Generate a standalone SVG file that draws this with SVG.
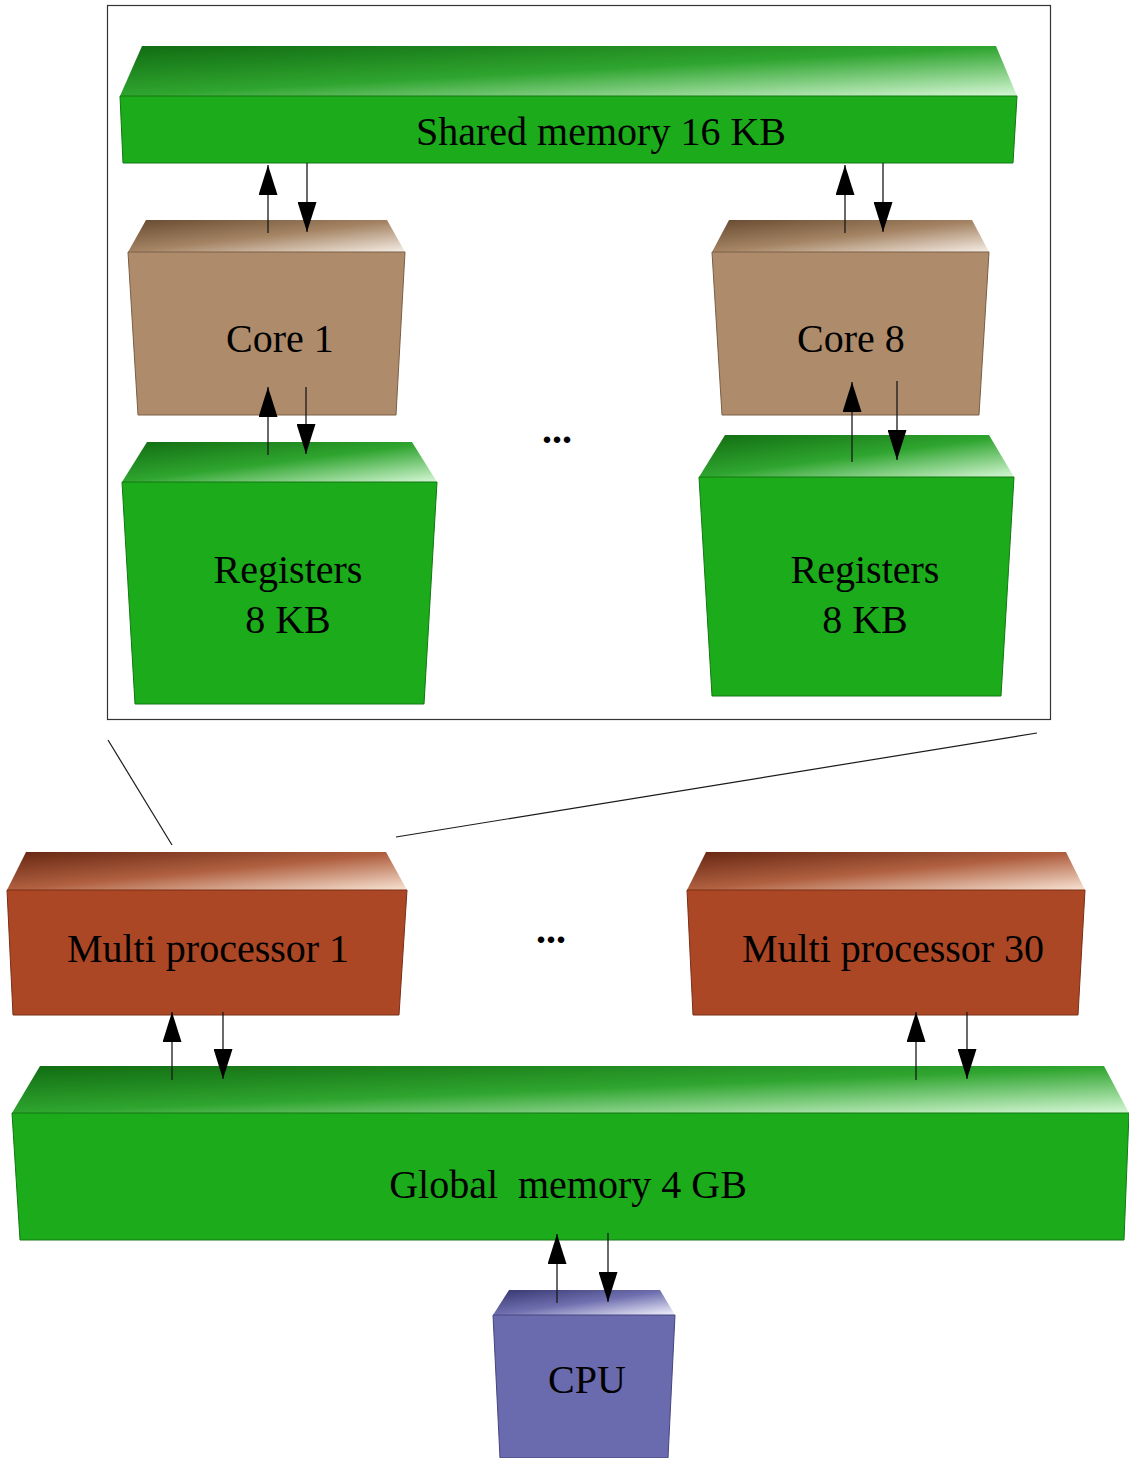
<svg xmlns="http://www.w3.org/2000/svg" width="1129" height="1458" viewBox="0 0 1129 1458">
  <defs>
    <!-- lit top faces: dark at the back-left, bright at the front-right -->
    <linearGradient id="topGreen" x1="0" y1="0" x2="1" y2="1">
      <stop offset="0" stop-color="#116c11"/>
      <stop offset="0.5" stop-color="#2fa52f"/>
      <stop offset="1" stop-color="#d6f7d6"/>
    </linearGradient>
    <linearGradient id="topBrown" x1="0" y1="0" x2="1" y2="1">
      <stop offset="0" stop-color="#664a30"/>
      <stop offset="0.5" stop-color="#a58464"/>
      <stop offset="1" stop-color="#f6eee6"/>
    </linearGradient>
    <linearGradient id="topRust" x1="0" y1="0" x2="1" y2="1">
      <stop offset="0" stop-color="#662612"/>
      <stop offset="0.5" stop-color="#b06040"/>
      <stop offset="1" stop-color="#f8e4d4"/>
    </linearGradient>
    <linearGradient id="topBlue" x1="0" y1="0" x2="1" y2="1">
      <stop offset="0" stop-color="#35356e"/>
      <stop offset="0.5" stop-color="#7070b0"/>
      <stop offset="1" stop-color="#f4f4ff"/>
    </linearGradient>
    <marker id="head" viewBox="0 0 30 19" refX="30" refY="9.5" markerWidth="30" markerHeight="19" markerUnits="userSpaceOnUse" orient="auto">
      <path d="M0,0 L30,9.5 L0,19 z" fill="#000"/>
    </marker>
  </defs>
  <style>
    text { font-family: "Liberation Serif", "Times New Roman", serif; font-size: 40px; fill: #000; text-anchor: middle; white-space: pre; }
    .dots { font-weight: bold; }
    .frontGreen { fill: #1bab1b; stroke: #127812; stroke-width: 1; }
    .frontBrown { fill: #ae8c6b; stroke: #7a5e44; stroke-width: 1; }
    .frontRust { fill: #ac4725; stroke: #7a2e15; stroke-width: 1; }
    .frontBlue { fill: #6a6aae; stroke: #45457e; stroke-width: 1; }
    .link { stroke: #1a1a1a; stroke-width: 1.3; fill: none; marker-end: url(#head); }
    .zoom { stroke: #1a1a1a; stroke-width: 1.2; fill: none; }
  </style>

  <rect width="1129" height="1458" fill="#fff"/>

  <!-- enlarged multiprocessor frame -->
  <rect id="mp-detail" x="107.5" y="5.5" width="943" height="714" fill="none" stroke="#333" stroke-width="1.2"/>

  <g id="shared-memory">
    <polygon points="142,46 996,46 1017,96 120,96" fill="url(#topGreen)"/>
    <polygon class="frontGreen" points="120,96 1017,96 1013,163 123,163"/>
    <text x="601" y="145">Shared memory 16 KB</text>
  </g>

  <g id="core-1">
    <polygon points="146,220 387,220 405,252 128,252" fill="url(#topBrown)"/>
    <polygon class="frontBrown" points="128,252 405,252 396,415 138,415"/>
    <text x="280" y="352">Core 1</text>
  </g>

  <g id="core-8">
    <polygon points="729,220 972,220 989,252 712,252" fill="url(#topBrown)"/>
    <polygon class="frontBrown" points="712,252 989,252 979,415 722,415"/>
    <text x="851" y="352">Core 8</text>
  </g>

  <g id="registers-1">
    <polygon points="147,442 412,442 437,482 122,482" fill="url(#topGreen)"/>
    <polygon class="frontGreen" points="122,482 437,482 424,704 135,704"/>
    <text x="288" y="583">Registers</text>
    <text x="288" y="633">8 KB</text>
  </g>

  <g id="registers-8">
    <polygon points="725,435 989,435 1014,477 699,477" fill="url(#topGreen)"/>
    <polygon class="frontGreen" points="699,477 1014,477 1001,696 712,696"/>
    <text x="865" y="583">Registers</text>
    <text x="865" y="633">8 KB</text>
  </g>

  <text class="dots" x="557" y="443">...</text>

  <g id="multiprocessor-1">
    <polygon points="26,852 386,852 407,890 7,890" fill="url(#topRust)"/>
    <polygon class="frontRust" points="7,890 407,890 399,1015 13,1015"/>
    <text x="208" y="962">Multi processor 1</text>
  </g>

  <g id="multiprocessor-30">
    <polygon points="706,852 1066,852 1085,890 687,890" fill="url(#topRust)"/>
    <polygon class="frontRust" points="687,890 1085,890 1078,1015 693,1015"/>
    <text x="893" y="962">Multi processor 30</text>
  </g>

  <text class="dots" x="551" y="943">...</text>

  <g id="global-memory">
    <polygon points="40,1066 1104,1066 1129,1113 12,1113" fill="url(#topGreen)"/>
    <polygon class="frontGreen" points="12,1113 1129,1113 1124,1240 20,1240"/>
    <text x="568" y="1198">Global  memory 4 GB</text>
  </g>

  <g id="cpu">
    <polygon points="509,1290 660,1290 675,1315 493,1315" fill="url(#topBlue)"/>
    <polygon class="frontBlue" points="493,1315 675,1315 668,1458 500,1458"/>
    <text x="587" y="1393">CPU</text>
  </g>

  <g id="connectors">
    <!-- zoom-out lines from multiprocessor 1 to its detail frame -->
    <line class="zoom" x1="108" y1="740" x2="172" y2="845"/>
    <line class="zoom" x1="1037" y1="733" x2="396" y2="837"/>

    <!-- shared memory <-> core 1 -->
    <line class="link" x1="268" y1="233" x2="268" y2="165"/>
    <line class="link" x1="307" y1="163" x2="307" y2="232"/>
    <!-- core 1 <-> registers -->
    <line class="link" x1="268" y1="455" x2="268" y2="387"/>
    <line class="link" x1="306" y1="387" x2="306" y2="454"/>

    <!-- shared memory <-> core 8 -->
    <line class="link" x1="845" y1="233" x2="845" y2="165"/>
    <line class="link" x1="883" y1="163" x2="883" y2="232"/>
    <!-- core 8 <-> registers -->
    <line class="link" x1="852" y1="462" x2="852" y2="382"/>
    <line class="link" x1="897" y1="381" x2="897" y2="460"/>

    <!-- multiprocessors <-> global memory -->
    <line class="link" x1="172" y1="1080" x2="172" y2="1012"/>
    <line class="link" x1="223" y1="1012" x2="223" y2="1079"/>
    <line class="link" x1="916" y1="1080" x2="916" y2="1012"/>
    <line class="link" x1="967" y1="1012" x2="967" y2="1079"/>

    <!-- global memory <-> CPU -->
    <line class="link" x1="557" y1="1303" x2="557" y2="1234"/>
    <line class="link" x1="608" y1="1233" x2="608" y2="1302"/>
  </g>
</svg>
